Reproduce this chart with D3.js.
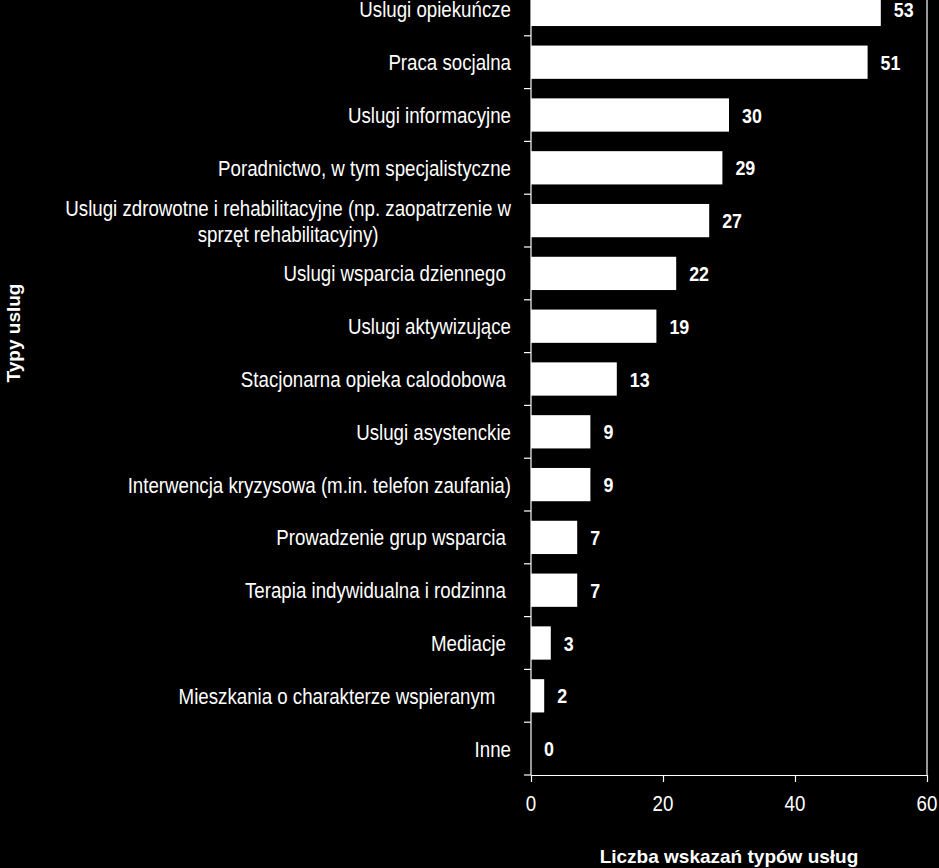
<!DOCTYPE html>
<html lang="pl">
<head>
    <meta charset="UTF-8">
    <title>Typy usług</title>
    <style>
        body {
            margin: 0;
            background: #000;
            overflow: hidden;
        }

        svg {
            display: block;
            background: #000;
        }

        text {
            fill: #fff;
            white-space: pre;
        }

        .narrow {
            font-family: "Liberation Sans", Arial, sans-serif;
            font-size: 22px;
        }

        .title {
            font-family: "Liberation Sans", Arial, sans-serif;
            font-weight: bold;
            font-size: 19px;
        }
    </style>
</head>
<body>
    <svg></svg>

    <script src="https://d3js.org/d3.v7.min.js"></script>
    <script>
        const width = 939;
        const height = 868;

        // categories (top to bottom), trailing spaces kept as in the original
        const categories = [
            "Uslugi opiekuńcze",
            "Praca socjalna",
            "Uslugi informacyjne",
            "Poradnictwo, w tym specjalistyczne",
            "Uslugi zdrowotne i rehabilitacyjne (np. zaopatrzenie w|sprzęt rehabilitacyjny)",
            "Uslugi wsparcia dziennego ",
            "Uslugi aktywizujące",
            "Stacjonarna opieka calodobowa ",
            "Uslugi asystenckie",
            "Interwencja kryzysowa (m.in. telefon zaufania)",
            "Prowadzenie grup wsparcia ",
            "Terapia indywidualna i rodzinna ",
            "Mediacje ",
            "Mieszkania o charakterze wspieranym   ",
            "Inne"
        ];
        const values = [53, 51, 30, 29, 27, 22, 19, 13, 9, 9, 7, 7, 3, 2, 0];
        const xTicks = [0, 20, 40, 60];

        // Arial Narrow is not installed, so squeeze Liberation Sans instead
        const squeeze = 0.85;

        const svg = d3.select("svg")
            .attr("width", width)
            .attr("height", height);

        const margin = { left: 531, right: 12, top: -17, bottom: 93 };

        const x = d3.scaleLinear()
            .domain([0, 60])
            .range([margin.left, width - margin.right]);

        const y = d3.scaleBand()
            .domain(categories)
            .range([margin.top, height - margin.bottom])
            .paddingInner(0.37)
            .paddingOuter(0.185);

        const bottom = height - margin.bottom;

        function narrowText(parent, px, py, anchor, str) {
            return parent.append("text")
                .attr("class", "narrow")
                .attr("transform", `translate(${px},${py}) scale(${squeeze},1)`)
                .attr("dy", "0.36em")
                .attr("text-anchor", anchor)
                .text(str);
        }

        // bars
        svg.append("g")
            .selectAll("rect")
            .data(values)
            .join("rect")
            .attr("x", x(0))
            .attr("y", (d, i) => y(categories[i]))
            .attr("width", d => x(d) - x(0))
            .attr("height", y.bandwidth())
            .attr("fill", "#fff");

        // value labels
        const valueG = svg.append("g");
        values.forEach((v, i) => {
            narrowText(valueG, x(v) + 13, y(categories[i]) + y.bandwidth() / 2, "start", v)
                .style("font-weight", "bold")
                .style("font-size", "21px");
        });

        // category labels
        const labelX = 511;
        const labelG = svg.append("g");
        categories.forEach(c => {
            const cy = y(c) + y.bandwidth() / 2;
            const lines = c.split("|");
            if (lines.length === 1) {
                narrowText(labelG, labelX, cy, "end", c);
            } else {
                const first = narrowText(labelG, labelX, cy - 13, "end", lines[0]);
                const w = first.node().getComputedTextLength() * squeeze;
                narrowText(labelG, labelX - w / 2, cy + 13, "middle", lines[1]);
            }
        });

        // y axis line and ticks on category boundaries
        const yAxis = svg.append("g")
            .attr("stroke", "#fff")
            .attr("stroke-width", 1.2);

        yAxis.append("line")
            .attr("x1", x(0)).attr("x2", x(0))
            .attr("y1", margin.top).attr("y2", bottom);

        const step = y.step();
        const boundaries = categories.map(c => y(c) - y.paddingInner() * step / 2).concat([bottom]);
        yAxis.selectAll(".tick")
            .data(boundaries)
            .join("line")
            .attr("x1", x(0) - 7).attr("x2", x(0))
            .attr("y1", d => d).attr("y2", d => d);

        // right frame line
        yAxis.append("line")
            .attr("x1", x(60)).attr("x2", x(60))
            .attr("y1", margin.top).attr("y2", bottom);

        // x axis
        const xAxis = svg.append("g")
            .attr("transform", `translate(0,${bottom})`)
            .call(d3.axisBottom(x).tickValues(xTicks).tickSize(7).tickFormat("").tickSizeOuter(0));

        xAxis.select(".domain").attr("stroke", "#fff").attr("stroke-width", 1.2);
        xAxis.selectAll(".tick line").attr("stroke", "#fff").attr("stroke-width", 1.2);

        const tickG = svg.append("g");
        xTicks.forEach(t => narrowText(tickG, x(t), bottom + 28, "middle", t));

        // axis titles
        svg.append("text")
            .attr("class", "title")
            .attr("x", (x(0) + x(60)) / 2)
            .attr("y", 863)
            .attr("text-anchor", "middle")
            .text("Liczba wskazań typów usług");

        svg.append("text")
            .attr("class", "title")
            .attr("transform", "translate(20,333) rotate(-90)")
            .attr("text-anchor", "middle")
            .text("Typy uslug");
    </script>
</body>
</html>
